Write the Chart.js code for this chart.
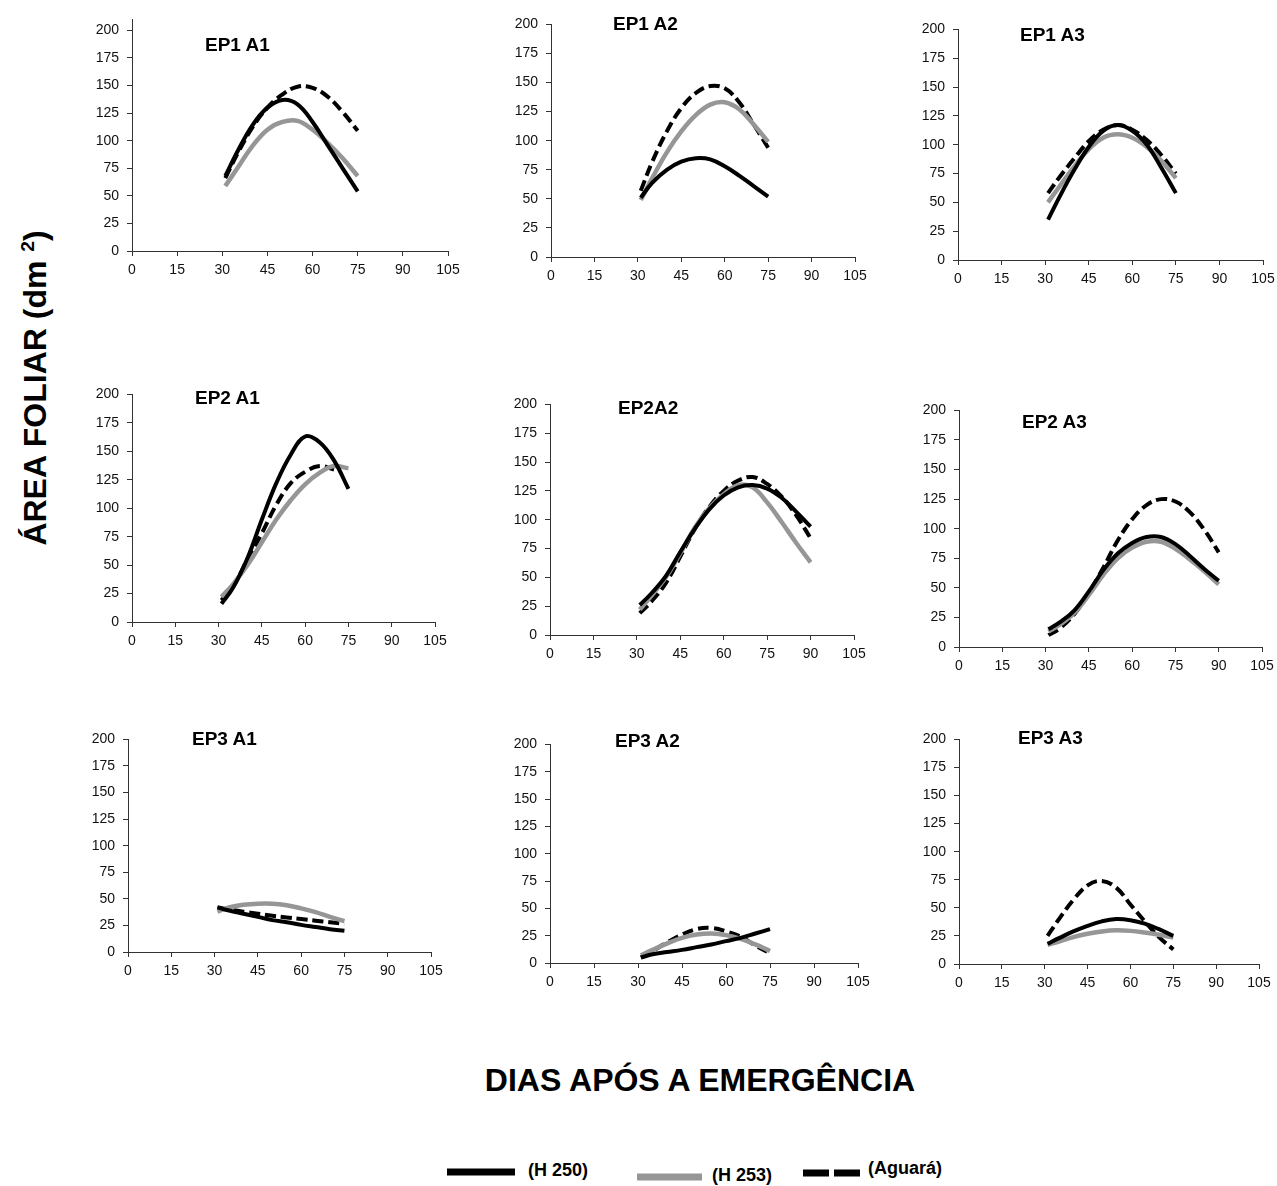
<!DOCTYPE html>
<html lang="pt-BR">
<head>
<meta charset="utf-8">
<title>Área foliar</title>
<script src="https://cdn.jsdelivr.net/npm/chart.js@4.4.1/dist/chart.umd.min.js"></script>
<style>
  html, body { margin: 0; padding: 0; background: #fff; }
  #page { position: relative; width: 1277px; height: 1186px; overflow: hidden;
          font-family: "Liberation Sans", Arial, sans-serif; color: #000; background: #fff; }
  canvas { position: absolute; }
  .titulo { position: absolute; font-weight: bold; font-size: 19px; line-height: 19px; white-space: nowrap; }
  #eixoY { position: absolute; left: 35px; top: 388px; transform: translate(-50%, -50%) rotate(-90deg);
           font-weight: bold; font-size: 32px; line-height: 32px; white-space: nowrap; }
  #eixoY sup { font-size: 0.6em; line-height: 0; }
  #eixoX { position: absolute; left: 700px; top: 1080px; transform: translate(-50%, -50%);
           font-weight: bold; font-size: 32px; line-height: 32px; white-space: nowrap; }
  .leg { position: absolute; font-weight: bold; font-size: 18px; line-height: 18px; white-space: nowrap; }
  svg.amostra { position: absolute; left: 0; top: 0; }
</style>
</head>
<body>
<div id="page">
  <div id="eixoY">ÁREA FOLIAR (dm <sup>2</sup>)</div>
  <div id="eixoX">DIAS APÓS A EMERGÊNCIA</div>

  <svg class="amostra" width="1277" height="1186">
    <line x1="447" y1="1172" x2="515" y2="1172" stroke="#000" stroke-width="7"/>
    <line x1="637" y1="1177" x2="702" y2="1177" stroke="#969696" stroke-width="7"/>
    <line x1="803" y1="1173" x2="860" y2="1173" stroke="#000" stroke-width="7" stroke-dasharray="26 5"/>
  </svg>
  <div class="leg" style="left:528px; top:1161px;">(H 250)</div>
  <div class="leg" style="left:712px; top:1166px;">(H 253)</div>
  <div class="leg" style="left:868px; top:1159px;">(Aguará)</div>
</div>

<script>
// eixos
const xTicks = [0, 15, 30, 45, 60, 75, 90, 105];
const yTicks = [0, 25, 50, 75, 100, 125, 150, 175, 200];

// dias após a emergência
const dias75 = [31, 35, 40, 45, 50, 55, 60, 65, 70, 75];
const dias90 = [31, 35, 40, 45, 50, 55, 60, 65, 70, 75, 80, 85, 90];

const titulos = ['EP1 A1', 'EP1 A2', 'EP1 A3', 'EP2 A1', 'EP2A2', 'EP2 A3', 'EP3 A1', 'EP3 A2', 'EP3 A3'];
const diasPorPainel = [dias75, dias75, dias75, dias75, dias90, dias90, dias75, dias75, dias75];

// área foliar (dm2) por painel
const h250 = [
  [68, 90, 114, 130, 137, 133, 117, 96, 75, 54],
  [51, 64, 75, 82, 85, 84, 78, 70, 61, 52],
  [35, 55, 78, 98, 112, 117, 112, 100, 80, 58],
  [16, 30, 56, 90, 122, 147, 163, 158, 142, 117],
  [26, 36, 51, 72, 92, 109, 121, 128, 130, 127, 119, 107, 94],
  [15, 21, 31, 47, 65, 79, 88, 93, 93, 87, 77, 66, 56],
  [42, 39, 36, 33, 30, 28, 25.5, 23.5, 21.5, 20],
  [5, 8, 10, 12, 14.5, 17, 20, 23, 27, 31],
  [18, 23, 29, 34, 38, 40, 39, 36, 31, 25]
];
const h253 = [
  [59, 75, 95, 110, 117, 118, 110, 98, 84, 68],
  [49, 68, 90, 108, 122, 131, 133, 127, 114, 99],
  [50, 64, 81, 96, 106, 109, 106, 98, 86, 71],
  [22, 33, 50, 70, 90, 107, 121, 131, 137, 135],
  [22, 34, 50, 71, 93, 110, 122, 130, 128, 115, 98, 80, 63],
  [13, 19, 29, 44, 61, 75, 84, 89, 89, 83, 74, 64, 53],
  [38, 42, 44.5, 45.5, 45.5, 44, 41, 37.5, 33, 29],
  [7, 12, 18, 23, 26, 27, 25.5, 22, 17, 11],
  [17, 20, 24, 27, 29, 30, 29.5, 28, 26, 23.5]
];
const aguara = [
  [66, 88, 112, 130, 142, 149, 148, 140, 126, 109],
  [57, 82, 108, 128, 141, 147, 145, 133, 114, 94],
  [58, 72, 88, 103, 113, 117, 113, 104, 91, 75],
  [19, 31, 55, 78, 103, 122, 132, 137, 134, null],
  [19, 29, 45, 68, 92, 111, 125, 134, 137, 131, 120, 104, 84],
  [10, 16, 28, 46, 67, 90, 108, 120, 125, 123, 114, 99, 80],
  [42, 40, 38, 36, 34, 32.5, 31, 29.5, 28, 26.5],
  [5, 11, 19, 26, 31, 32, 29, 24, 16, 9],
  [25, 40, 57, 70, 74, 68, 53, 38, 24, 13]
];

// posição de cada gráfico na página: eixo x (0 e 105), eixo y (topo e zero), título
const paineis = [
  { ax: 132, bx: 448, ty: 13,  by: 251, yMax: 210, tx: 205,  tyT: 35 },
  { ax: 551, bx: 855, ty: 18,  by: 257, yMax: 200, tx: 613,  tyT: 14 },
  { ax: 958, bx: 1263, ty: 23, by: 260, yMax: 200, tx: 1020, tyT: 25 },
  { ax: 132, bx: 435, ty: 388, by: 622, yMax: 200, tx: 195,  tyT: 388 },
  { ax: 550, bx: 854, ty: 398, by: 635, yMax: 200, tx: 618,  tyT: 398 },
  { ax: 959, bx: 1262, ty: 404, by: 647, yMax: 200, tx: 1022, tyT: 412 },
  { ax: 128, bx: 431, ty: 733, by: 952, yMax: 200, tx: 192,  tyT: 729 },
  { ax: 550, bx: 858, ty: 738, by: 963, yMax: 200, tx: 615,  tyT: 731 },
  { ax: 959, bx: 1259, ty: 733, by: 964, yMax: 200, tx: 1018, tyT: 728 }
];

const YW = 50, XH = 30, PT = 10, PR = 22;
const fonte = { family: '"Liberation Sans", Arial, sans-serif', size: 14 };
const page = document.getElementById('page');

const pontos = (dias, vals) => dias.map((d, k) => ({ x: d, y: vals[k] }));

paineis.forEach((p, i) => {
  const w = p.bx - p.ax + YW + PR;
  const h = p.by - p.ty + PT + XH;
  const cv = document.createElement('canvas');
  cv.width = w; cv.height = h;
  cv.style.left = (p.ax - YW) + 'px';
  cv.style.top = (p.ty - PT) + 'px';
  cv.style.width = w + 'px';
  cv.style.height = h + 'px';
  page.appendChild(cv);

  const t = document.createElement('div');
  t.className = 'titulo';
  t.textContent = titulos[i];
  t.style.left = p.tx + 'px';
  t.style.top = p.tyT + 'px';
  page.appendChild(t);

  const dias = diasPorPainel[i];
  new Chart(cv, {
    type: 'line',
    data: {
      datasets: [
        { label: 'H 250', data: pontos(dias, h250[i]), borderColor: '#000', borderWidth: 4 },
        { label: 'H 253', data: pontos(dias, h253[i]), borderColor: '#969696', borderWidth: 4.5 },
        { label: 'Aguará', data: pontos(dias, aguara[i]), borderColor: '#000', borderWidth: 4, borderDash: [11, 5] }
      ]
    },
    options: {
      responsive: false,
      animation: false,
      devicePixelRatio: 1,
      layout: { padding: { top: PT, right: PR, left: 0, bottom: 0 } },
      elements: {
        point: { radius: 0 },
        line: { tension: 0.4, borderCapStyle: 'butt', fill: false }
      },
      plugins: { legend: { display: false }, tooltip: { enabled: false } },
      scales: {
        x: {
          type: 'linear', min: 0, max: 105,
          afterBuildTicks: s => { s.ticks = xTicks.map(v => ({ value: v })); },
          afterFit: s => { s.height = XH; },
          grid: { drawOnChartArea: false, tickLength: 5, color: '#333' },
          border: { color: '#333', width: 1 },
          ticks: { font: fonte, color: '#111', padding: 6, maxRotation: 0, autoSkip: false }
        },
        y: {
          type: 'linear', min: 0, max: p.yMax,
          afterBuildTicks: s => { s.ticks = yTicks.map(v => ({ value: v })); },
          afterFit: s => { s.width = YW; },
          grid: { drawOnChartArea: false, tickLength: 5, color: '#333' },
          border: { color: '#333', width: 1 },
          ticks: { font: fonte, color: '#111', padding: 8, autoSkip: false }
        }
      }
    }
  });
});
</script>
</body>
</html>
